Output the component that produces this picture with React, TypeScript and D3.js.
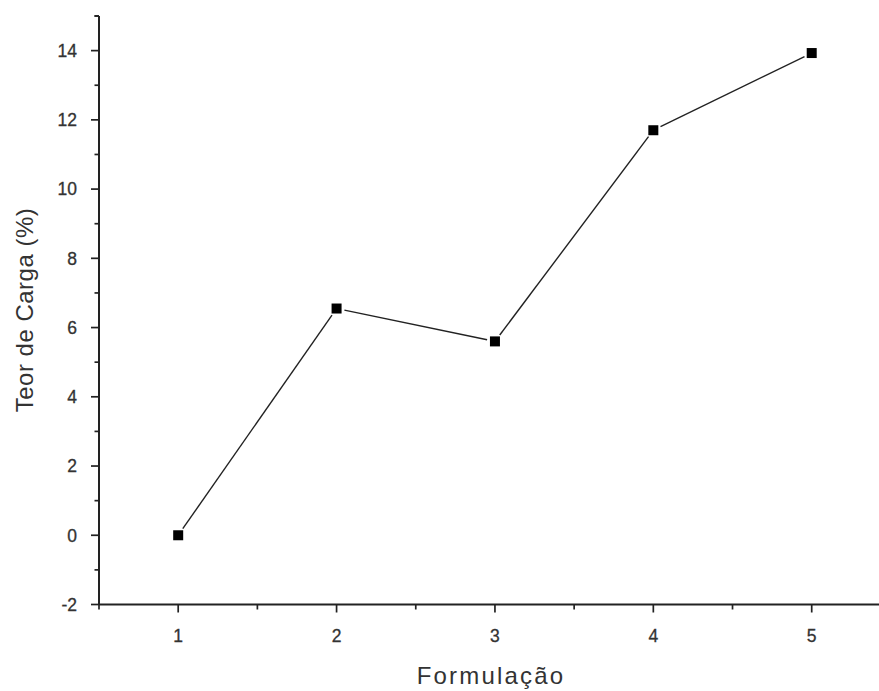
import React from "react";
import * as d3 from "d3";

const formulacoes = [1, 2, 3, 4, 5];
const teorCarga = [0, 6.55, 5.6, 11.7, 13.93];
const yTicks = [-2, 0, 2, 4, 6, 8, 10, 12, 14];
const xTicks = [1, 2, 3, 4, 5];

const W = 879;
const H = 691;

export default function App() {
  const x = d3.scaleLinear().domain([0.5, 5.5]).range([99, 890.9]);
  const y = d3.scaleLinear().domain([-2, 15]).range([604.5, 16]);
  const x0 = x(0.5);
  const yBase = y(-2);
  const yMinor = d3.range(-2, 15.01, 1);
  const xMinor = d3.range(0.5, 5.51, 0.5);
  const pts = formulacoes.map((f, i) => [x(f), y(teorCarga[i])]);
  const gap = 8;
  const segs = pts.slice(0, -1).map((p, i) => {
    const q = pts[i + 1];
    const dx = q[0] - p[0];
    const dy = q[1] - p[1];
    const len = Math.hypot(dx, dy);
    const ux = dx / len;
    const uy = dy / len;
    return [p[0] + ux * gap, p[1] + uy * gap, q[0] - ux * gap, q[1] - uy * gap];
  });
  const font = "Arial, 'Liberation Sans', sans-serif";
  return (
    <div style={{ position: "absolute", left: 0, top: 0, width: W, height: H, overflow: "hidden", background: "#fff" }}>
      <svg width={W} height={H} style={{ display: "block" }}>
        <rect width={W} height={H} fill="#fff" />
        {/* y axis */}
        <line x1={x0} x2={x0} y1={y(15)} y2={yBase} stroke="#222" strokeWidth={2} />
        {yMinor.map((v) => {
          const major = yTicks.includes(v);
          return (
            <line key={"ym" + v} x1={x0 - (major ? 8 : 4.5)} x2={x0} y1={y(v)} y2={y(v)} stroke="#222" strokeWidth={1.7} />
          );
        })}
        <line x1={x0 - 4.5} x2={x0} y1={y(15)} y2={y(15)} stroke="#222" strokeWidth={1.7} />
        {yTicks.map((v) => (
          <text key={"yl" + v} x={x0 - 22} y={y(v)} dy="0.36em" textAnchor="end" fontFamily={font} fontSize={17.5} fill="#333" stroke="#333" strokeWidth={0.3}>
            {v}
          </text>
        ))}
        {/* x axis */}
        <line x1={x0} x2={W} y1={yBase} y2={yBase} stroke="#222" strokeWidth={2} />
        {xMinor.map((v) => {
          const major = xTicks.includes(v);
          return (
            <line key={"xm" + v} x1={x(v)} x2={x(v)} y1={yBase} y2={yBase + (major ? 8 : 5)} stroke="#222" strokeWidth={1.7} />
          );
        })}
        {xTicks.map((v) => (
          <text key={"xl" + v} x={x(v)} y={yBase + 37} textAnchor="middle" fontFamily={font} fontSize={17.5} fill="#333" stroke="#333" strokeWidth={0.3}>
            {v}
          </text>
        ))}
        {/* titles */}
        <text x={491} y={684} textAnchor="middle" fontFamily={font} fontSize={24} letterSpacing={2.2} fill="#333">
          Formulação
        </text>
        <text transform={`translate(33,${310}) rotate(-90)`} textAnchor="middle" fontFamily={font} fontSize={24} letterSpacing={0.5} fill="#333">
          Teor de Carga (%)
        </text>
        {/* line */}
        {segs.map((s, i) => (
          <line key={"s" + i} x1={s[0]} y1={s[1]} x2={s[2]} y2={s[3]} stroke="#222" strokeWidth={1.4} />
        ))}
        {pts.map((p, i) => (
          <rect key={"p" + i} x={p[0] - 5} y={p[1] - 5} width={10} height={10} fill="#000" />
        ))}
      </svg>
    </div>
  );
}
